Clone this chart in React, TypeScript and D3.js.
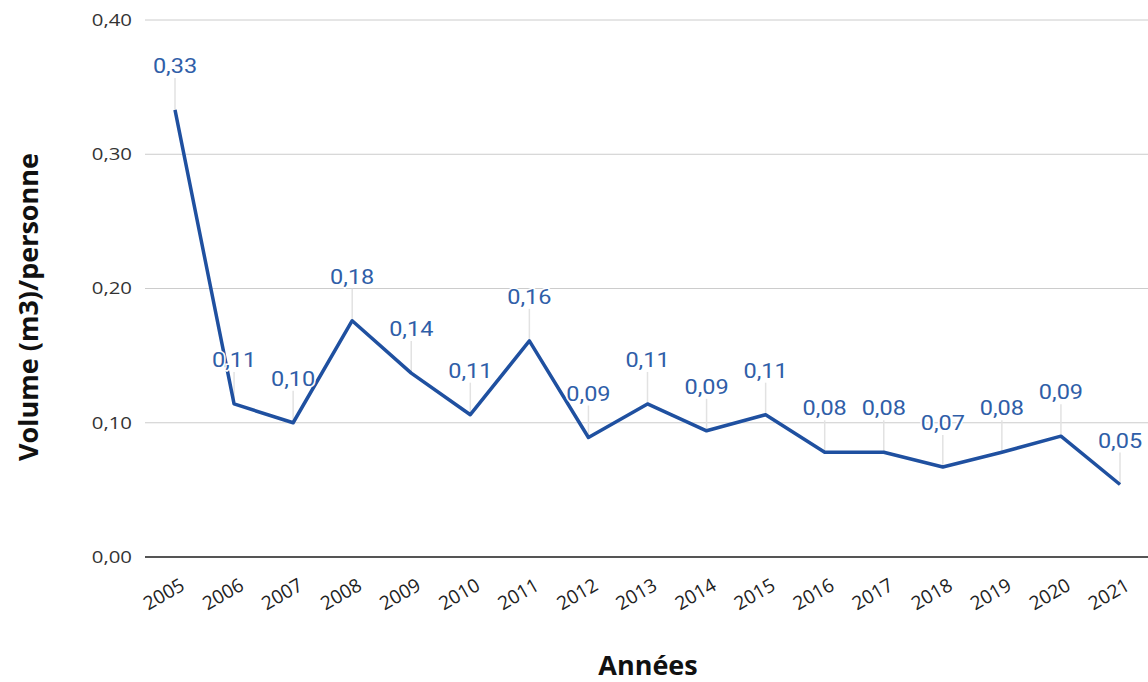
import * as d3 from "d3";
import { useEffect, useRef } from "react";

const years = ["2005", "2006", "2007", "2008", "2009", "2010", "2011", "2012", "2013", "2014", "2015", "2016", "2017", "2018", "2019", "2020", "2021"];
const volumes = [0.333, 0.114, 0.1, 0.176, 0.137, 0.106, 0.161, 0.089, 0.114, 0.094, 0.106, 0.078, 0.078, 0.067, 0.078, 0.09, 0.054];
const yTicks = [0, 0.1, 0.2, 0.3, 0.4];

const fmt = (v: number) => v.toFixed(2).replace(".", ",");

export default function App() {
    const ref = useRef<SVGSVGElement>(null);

    useEffect(() => {
        const svg = d3.select(ref.current);
        svg.selectAll("*").remove();

        const width = 1148;
        const height = 682;
        const left = 145;

        const x = d3.scalePoint().domain(years).range([175, 1120]);
        const y = d3.scaleLinear().domain([0, 0.4]).range([557, 20]);

        // grid
        svg.append("g")
            .selectAll("line")
            .data(yTicks)
            .enter()
            .append("line")
            .attr("x1", left)
            .attr("x2", width)
            .attr("y1", (d) => y(d))
            .attr("y2", (d) => y(d))
            .attr("stroke", (d) => (d === 0 ? "#555" : "#ccc"))
            .attr("stroke-width", (d) => (d === 0 ? 2 : 1));

        // y labels (the source font is a bit wider, hence the x scale)
        svg.append("g")
            .selectAll("text")
            .data(yTicks)
            .enter()
            .append("text")
            .attr("transform", (d) => `translate(132,${y(d)}) scale(1.2,1)`)
            .attr("dy", "0.35em")
            .attr("text-anchor", "end")
            .attr("font-family", "'Open Sans', sans-serif")
            .attr("font-size", 17)
            .attr("fill", "#333")
            .text((d) => fmt(d));

        // x labels
        svg.append("g")
            .selectAll("text")
            .data(years)
            .enter()
            .append("text")
            .attr("transform", (d) => `translate(${(x(d) as number) + 11},${589}) rotate(-30)`)
            .attr("text-anchor", "end")
            .attr("font-family", "'Open Sans', sans-serif")
            .attr("font-size", 19)
            .attr("fill", "#222")
            .text((d) => d);

        // leader lines
        svg.append("g")
            .selectAll("line")
            .data(volumes)
            .enter()
            .append("line")
            .attr("x1", (d, i) => x(years[i]) as number)
            .attr("x2", (d, i) => x(years[i]) as number)
            .attr("y1", (d) => y(d))
            .attr("y2", (d) => y(d) - 32)
            .attr("stroke", "#e2e2e2")
            .attr("stroke-width", 1.5);

        const line = d3
            .line<number>()
            .x((d, i) => x(years[i]) as number)
            .y((d) => y(d));

        svg.append("path")
            .datum(volumes)
            .attr("d", line)
            .attr("fill", "none")
            .attr("stroke", "#1f50a0")
            .attr("stroke-width", 3.5)
            .attr("stroke-linejoin", "round");

        // value labels
        svg.append("g")
            .selectAll("text")
            .data(volumes)
            .enter()
            .append("text")
            .attr("transform", (d, i) => `translate(${x(years[i])},${y(d) - 37}) scale(1.12,1)`)
            .attr("text-anchor", "middle")
            .attr("font-family", "Roboto, sans-serif")
            .attr("font-size", 21)
            .attr("fill", "#2f5ea8")
            .attr("stroke", "white")
            .attr("stroke-width", 3)
            .attr("paint-order", "stroke")
            .text((d) => fmt(d));

        // axis titles
        svg.append("text")
            .attr("transform", `translate(38,${307}) rotate(-90)`)
            .attr("text-anchor", "middle")
            .attr("font-family", "'Open Sans', sans-serif")
            .attr("font-weight", "bold")
            .attr("font-size", 27)
            .attr("fill", "#111")
            .text("Volume (m3)/personne");

        svg.append("text")
            .attr("x", 648)
            .attr("y", 675)
            .attr("text-anchor", "middle")
            .attr("font-family", "'Open Sans', sans-serif")
            .attr("font-weight", "bold")
            .attr("font-size", 27)
            .attr("fill", "#111")
            .text("Années");

        svg.attr("width", width).attr("height", height);
    }, []);

    return (
        <svg
            ref={ref}
            width={1148}
            height={682}
            style={{ position: "absolute", left: 0, top: 0, background: "white" }}
        />
    );
}
